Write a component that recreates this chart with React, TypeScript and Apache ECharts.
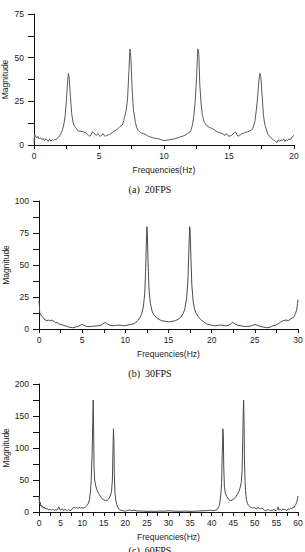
import React, { useEffect, useRef } from "react";
import * as echarts from "echarts";

// Spectrum (a) 20 FPS: [frequency Hz, magnitude]
const spectrumA: [number, number][] = [
  [0, 1], [0.05, 6], [0.1, 5.5], [0.2, 4], [0.3, 5], [0.4, 3.5], [0.5, 4.2], [0.6, 3], [0.7, 3.8], [0.8, 2.5],
  [0.9, 3.5], [1.0, 3], [1.1, 2], [1.2, 3.5], [1.3, 2.2], [1.4, 3], [1.5, 2.5], [1.6, 3.2], [1.7, 3], [1.8, 4],
  [1.9, 4.5], [2.0, 5.5], [2.1, 7], [2.2, 9], [2.3, 12], [2.4, 17], [2.5, 26], [2.6, 38], [2.65, 41], [2.7, 39],
  [2.8, 28], [2.9, 18], [3.0, 13], [3.1, 11], [3.2, 10], [3.3, 9], [3.4, 8], [3.6, 7.8], [3.8, 7.5], [4.0, 7],
  [4.1, 6], [4.2, 5.5], [4.3, 5], [4.4, 6], [4.5, 7.5], [4.6, 7], [4.7, 6], [4.8, 5.5], [4.9, 6.5], [5.0, 5.5],
  [5.1, 5], [5.2, 5.5], [5.3, 6.5], [5.4, 5.5], [5.5, 5], [5.6, 5.5], [5.8, 6], [6.0, 7], [6.2, 8], [6.4, 9],
  [6.6, 10.5], [6.8, 11.5], [6.9, 14], [7.0, 17], [7.1, 20], [7.2, 27], [7.3, 42], [7.38, 55], [7.45, 50], [7.55, 32],
  [7.65, 20], [7.8, 13], [7.9, 10], [8.0, 8.5], [8.2, 7], [8.4, 6.5], [8.6, 6], [8.8, 5], [9.0, 4.5], [9.2, 4],
  [9.4, 3.8], [9.6, 3.5], [9.8, 3], [10.0, 2.5], [10.2, 2.8], [10.4, 3], [10.6, 3.3], [10.8, 3.5], [11.0, 4], [11.2, 4.5],
  [11.4, 5], [11.6, 5.5], [11.8, 6.5], [12.0, 7.5], [12.1, 9], [12.2, 12], [12.3, 17], [12.4, 25], [12.5, 38], [12.6, 55],
  [12.68, 52], [12.75, 35], [12.85, 24], [12.95, 17], [13.1, 13], [13.3, 11], [13.5, 10], [13.7, 9.5], [13.9, 8.5], [14.1, 7.5],
  [14.3, 7], [14.5, 6.5], [14.7, 5.5], [14.8, 6.5], [14.9, 5.5], [15.0, 5], [15.2, 5.5], [15.4, 7], [15.5, 7.5], [15.6, 6],
  [15.7, 5], [15.8, 5.5], [16.0, 6.5], [16.2, 7], [16.4, 7.5], [16.6, 8], [16.8, 9], [16.9, 11], [17.0, 14], [17.1, 20],
  [17.2, 27], [17.3, 37], [17.38, 41], [17.45, 39], [17.55, 28], [17.65, 17], [17.75, 12], [17.9, 8], [18.0, 6], [18.1, 5],
  [18.2, 4.5], [18.3, 3.5], [18.4, 3], [18.5, 2.5], [18.6, 2], [18.7, 1.5], [18.8, 3], [18.9, 2], [19.0, 3], [19.1, 2.5],
  [19.2, 3.5], [19.3, 2], [19.4, 3], [19.5, 2.5], [19.6, 3.5], [19.7, 3], [19.8, 4], [19.9, 5], [20.0, 5.5],
];

// Spectrum (b) 30 FPS
const spectrumB: [number, number][] = [
  [0, 22], [0.03, 20], [0.08, 13], [0.15, 12], [0.3, 10], [0.5, 9], [0.7, 7], [0.9, 6.5], [1.1, 7], [1.3, 6.5],
  [1.5, 7], [1.7, 6], [1.9, 5], [2.1, 5], [2.3, 4], [2.5, 3.5], [2.8, 3], [3.0, 2.5], [3.3, 2], [3.6, 1.2],
  [3.9, 1], [4.2, 1.5], [4.5, 2], [4.8, 3], [5.0, 3.5], [5.2, 3], [5.5, 2], [5.8, 1.8], [6.1, 2], [6.4, 2.2],
  [6.8, 2.5], [7.2, 3], [7.5, 4.5], [7.7, 5], [7.9, 4], [8.2, 3], [8.6, 2.5], [9.0, 3], [9.4, 3], [9.8, 2.5],
  [10.2, 3], [10.6, 3.5], [10.9, 4], [11.2, 5], [11.5, 7], [11.7, 9], [11.9, 12], [12.1, 18], [12.25, 28], [12.35, 45],
  [12.45, 72], [12.5, 80], [12.55, 74], [12.65, 48], [12.75, 30], [12.9, 20], [13.1, 14], [13.3, 11], [13.6, 9], [13.9, 7.5],
  [14.2, 6.5], [14.6, 6], [15.0, 5.5], [15.4, 6], [15.8, 6.5], [16.1, 7.5], [16.4, 9], [16.7, 12], [16.9, 16], [17.1, 24],
  [17.25, 38], [17.35, 60], [17.45, 80], [17.5, 78], [17.6, 55], [17.7, 35], [17.85, 22], [18.0, 16], [18.2, 12], [18.5, 9],
  [18.8, 7], [19.1, 5.5], [19.4, 4], [19.7, 3.5], [20.0, 3], [20.4, 2.5], [20.8, 3], [21.2, 3], [21.6, 2.5], [22.0, 3],
  [22.3, 4.5], [22.5, 5], [22.7, 4], [23.0, 3], [23.4, 2.5], [23.8, 2], [24.2, 2], [24.6, 2.5], [25.0, 3.5], [25.3, 3],
  [25.6, 2], [26.0, 1.5], [26.4, 1], [26.8, 1.5], [27.1, 2.5], [27.4, 3], [27.7, 4], [28.0, 5.5], [28.3, 6.5], [28.6, 7],
  [28.9, 6.5], [29.1, 7.5], [29.3, 8.5], [29.5, 9], [29.7, 12], [29.85, 15], [29.95, 20], [30, 23],
];

// Spectrum (c) 60 FPS
const spectrumC: [number, number][] = [
  [0, 25], [0.05, 20], [0.1, 14], [0.2, 12], [0.3, 15], [0.4, 10], [0.5, 11], [0.6, 8], [0.8, 9], [1.0, 6],
  [1.2, 8], [1.4, 5], [1.6, 6], [1.8, 4], [2.0, 5], [2.3, 3], [2.6, 4], [2.9, 3], [3.2, 4.5], [3.5, 2.5],
  [3.8, 3.5], [4.1, 3], [4.4, 5], [4.6, 8], [4.8, 4], [5.1, 3], [5.4, 5], [5.7, 2], [6.0, 4], [6.3, 3],
  [6.6, 2], [6.9, 4], [7.2, 2], [7.5, 3], [7.8, 6], [8.1, 7], [8.4, 6], [8.7, 7], [9.0, 6], [9.3, 7],
  [9.6, 6], [9.9, 7], [10.2, 6], [10.5, 7], [10.8, 8], [11.1, 10], [11.4, 13], [11.7, 20], [11.9, 30], [12.1, 50],
  [12.3, 90], [12.45, 140], [12.55, 175], [12.65, 130], [12.75, 70], [12.9, 50], [13.1, 42], [13.4, 35], [13.8, 29], [14.2, 25],
  [14.6, 21], [15.0, 19], [15.4, 18], [15.8, 18.5], [16.2, 21], [16.5, 25], [16.8, 32], [17.0, 50], [17.15, 100], [17.25, 130],
  [17.35, 110], [17.45, 60], [17.6, 30], [17.8, 18], [18.0, 12], [18.3, 7], [18.6, 4], [19.0, 2.5], [19.5, 2], [20.0, 1.5],
  [20.5, 2.5], [21.0, 3], [21.5, 2], [22.0, 3], [22.5, 2], [23.0, 1.5], [24.0, 1.5], [25.0, 1], [26.0, 1.2], [27.0, 1],
  [28.0, 1.5], [29.0, 1.2], [30.0, 2], [31.0, 1.5], [32.0, 1.2], [33.0, 1], [34.0, 1.5], [35.0, 1], [36.0, 1.2], [37.0, 1.5],
  [38.0, 2], [39.0, 2], [39.5, 3], [40.0, 2.5], [40.5, 2], [41.0, 3], [41.4, 5], [41.7, 9], [41.9, 15], [42.1, 25],
  [42.3, 45], [42.45, 90], [42.6, 130], [42.7, 120], [42.8, 70], [42.95, 40], [43.15, 30], [43.5, 24], [43.9, 20], [44.3, 18],
  [44.7, 18.5], [45.1, 20], [45.5, 23], [45.9, 27], [46.3, 32], [46.6, 38], [46.9, 48], [47.05, 65], [47.2, 110], [47.3, 150],
  [47.4, 175], [47.5, 140], [47.6, 80], [47.75, 45], [47.9, 28], [48.1, 18], [48.3, 13], [48.6, 10], [48.9, 8], [49.2, 7],
  [49.5, 6], [49.8, 7], [50.1, 6], [50.4, 5], [50.7, 7], [51.0, 6], [51.3, 5], [51.6, 6], [51.9, 5], [52.2, 3],
  [52.5, 2], [52.8, 3], [53.1, 4], [53.4, 2], [53.7, 3], [54.0, 2], [54.3, 4], [54.6, 3], [54.9, 2], [55.2, 4],
  [55.4, 8], [55.6, 3], [55.9, 4], [56.2, 2], [56.5, 5], [56.8, 3], [57.1, 4], [57.4, 2], [57.7, 5], [58.0, 4],
  [58.3, 6], [58.6, 5], [58.9, 8], [59.1, 7], [59.3, 10], [59.5, 12], [59.7, 15], [59.85, 20], [60, 25],
];

const xMaxes = [20, 30, 60];
const yMaxes = [75, 100, 200];
const yIntervals = [25, 25, 50];
const captions = ["(a)  20FPS", "(b)  30FPS", "(c)  60FPS"];
const xName = "Frequencies(Hz)";
const yName = "Magnitude";

const grids = [
  { left: 34, top: 14, width: 260, height: 131 },
  { left: 39, top: 201, width: 259, height: 128 },
  { left: 39, top: 384, width: 259, height: 128 },
];
const yNameGaps = [25, 29, 29];
const captionY = [184, 368, 545];

const SANS = "Liberation Sans";
const SERIF = "Liberation Serif";

export default function App() {
  const ref = useRef<HTMLDivElement>(null);
  useEffect(() => {
    if (!ref.current) return;
    const chart = echarts.init(ref.current, undefined, { renderer: "svg" });
    const axisCommon = {
      axisLine: { show: true, onZero: false, lineStyle: { color: "#111", width: 1 } },
      axisTick: { show: true, inside: false, length: 4, lineStyle: { color: "#111" } },
      minorTick: { show: true, splitNumber: 2, length: 4, lineStyle: { color: "#111" } },
      splitLine: { show: false },
      minorSplitLine: { show: false },
      axisLabel: { color: "#222", fontFamily: SANS, fontSize: 8.5 },
      nameTextStyle: { color: "#222", fontFamily: SANS, fontSize: 8.5 },
      nameMoveOverlap: false,
    };
    const series = [spectrumA, spectrumB, spectrumC].map((d, i) => ({
      type: "line",
      xAxisIndex: i,
      yAxisIndex: i,
      data: d,
      showSymbol: false,
      symbol: "none",
      lineStyle: { color: i === 0 ? "#5a5a5a" : "#4a4a4a", width: 1 },
      silent: true,
    }));
    chart.setOption({
      animation: false,
      backgroundColor: "#fff",
      grid: grids.map((g) => ({ ...g, containLabel: false, outerBoundsMode: "none" })),
      xAxis: xMaxes.map((mx, i) => ({
        type: "value",
        gridIndex: i,
        min: 0,
        max: mx,
        interval: 5,
        name: xName,
        nameLocation: "middle",
        nameGap: 20,
        ...axisCommon,
        axisLabel: { ...axisCommon.axisLabel, margin: 6 },
      })),
      yAxis: yMaxes.map((mx, i) => ({
        type: "value",
        gridIndex: i,
        min: 0,
        max: mx,
        interval: yIntervals[i],
        name: yName,
        nameLocation: "middle",
        nameGap: yNameGaps[i],
        ...axisCommon,
        axisTick: { ...axisCommon.axisTick, length: 6 },
        minorTick: { ...axisCommon.minorTick, length: 6 },
        axisLabel: { ...axisCommon.axisLabel, margin: 10 },
      })),
      series,
      graphic: captions.map((c, i) => ({
        type: "text",
        x: 150,
        y: captionY[i],
        style: {
          text: c,
          fill: "#111",
          fontFamily: SERIF,
          fontSize: 10,
          align: "center",
          verticalAlign: "top",
        },
      })),
    });
    return () => chart.dispose();
  }, []);
  return (
    <div
      ref={ref}
      style={{ position: "absolute", left: 0, top: 0, width: 305, height: 552, background: "#fff" }}
    />
  );
}
